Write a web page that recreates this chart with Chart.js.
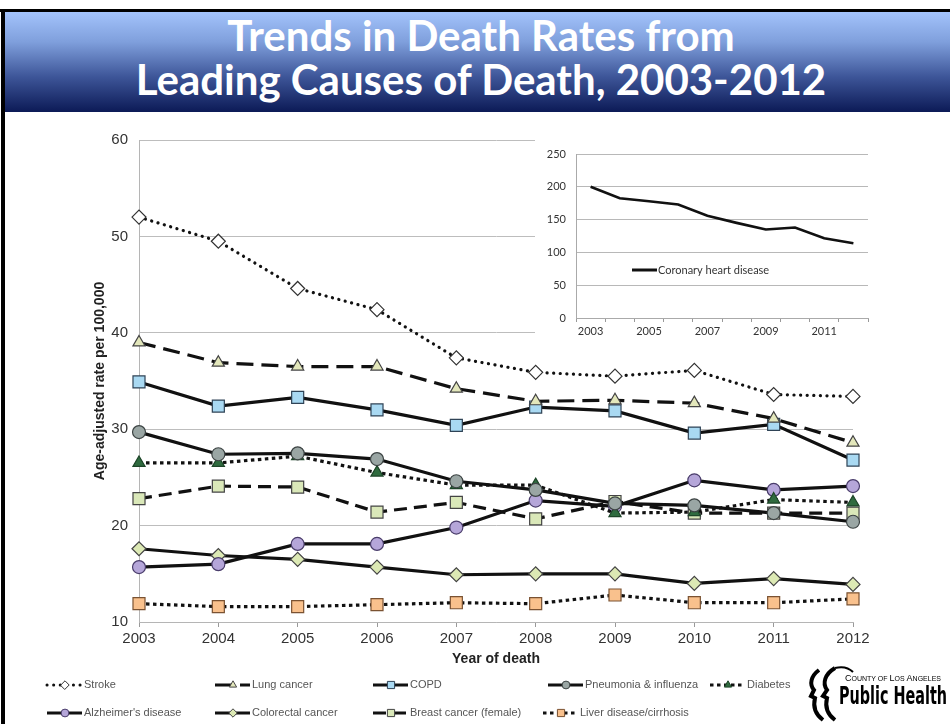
<!DOCTYPE html>
<html>
<head>
<meta charset="utf-8">
<script src="https://cdn.jsdelivr.net/npm/chart.js@4.4.0/dist/chart.umd.min.js"></script>
<style>
  html, body { margin: 0; padding: 0; background: #fff; }
  #page { position: relative; width: 950px; height: 724px; overflow: hidden; background: #fff; }
  #frameTop { position: absolute; left: 0; top: 9px; width: 950px; height: 3px; background: #000; }
  #frameLeft { position: absolute; left: 1px; top: 9px; width: 4px; height: 715px; background: #000; }
  #banner {
    position: absolute; left: 5px; top: 12px; width: 945px; height: 100px;
    background: linear-gradient(to bottom, #a3c3fb 0%, #7f9fdc 30%, #3d5598 65%, #0c1a56 100%);
  }
  .tline {
    position: absolute; left: 0; width: 962px; text-align: center; color: #fff;
    font-family: Lato, "Open Sans", sans-serif; font-weight: bold; font-size: 42px;
    white-space: nowrap;
  }
  #mainChart { position: absolute; left: 0; top: 0; }
  #insetBox { position: absolute; left: 535px; top: 132px; width: 345px; height: 215px; background: #fff; }
  #logo { position: absolute; left: 805px; top: 666px; width: 145px; height: 56px; }
</style>
</head>
<body>
<div id="page">
  <div id="frameTop"></div>
  <div id="banner"></div>
  <div id="frameLeft"></div>
  <div class="tline" style="top:10px;">Trends in Death Rates from</div>
  <div class="tline" style="top:54px;">Leading Causes of Death, 2003-2012</div>
  <canvas id="mainChart" width="950" height="724"></canvas>
  <div id="insetBox"><canvas id="insetChart" width="345" height="215"></canvas></div>
  <div id="logo">
    <svg width="145" height="56" viewBox="0 0 145 56">
      <path d="M14 4 C6 10 4 18 9 24 L6 30 L10 32 C8 40 10 48 18 54" fill="none" stroke="#000" stroke-width="4"/>
      <path d="M30 2 C20 8 17 17 22 24 L18 30 L22 32 C20 40 22 48 30 54" fill="none" stroke="#000" stroke-width="4"/>
      <path d="M30 2 C38 0 44 2 48 6" fill="none" stroke="#000" stroke-width="2"/>
      <text x="40" y="15" font-family="Liberation Sans, Arial" font-size="9" fill="#000">C<tspan font-size="7">OUNTY OF </tspan>L<tspan font-size="7">OS </tspan>A<tspan font-size="7">NGELES</tspan></text>
      <text x="34" y="38" font-family="Liberation Sans Narrow, DejaVu Sans Condensed, Arial" font-weight="bold" font-size="25" fill="#000" textLength="108" lengthAdjust="spacingAndGlyphs">Public Health</text>
    </svg>
  </div>
</div>

<script>
// years on the x axis
const years = ["2003", "2004", "2005", "2006", "2007", "2008", "2009", "2010", "2011", "2012"];

// age-adjusted rate per 100,000
const stroke      = [52.0, 49.5, 44.6, 42.4, 37.4, 35.9, 35.5, 36.1, 33.6, 33.4];
const lungCancer  = [39.0, 36.9, 36.5, 36.5, 34.2, 32.9, 33.0, 32.7, 31.1, 28.6];
const copd        = [34.9, 32.4, 33.3, 32.0, 30.4, 32.3, 31.9, 29.6, 30.5, 26.8];
const pneumonia   = [29.7, 27.4, 27.5, 26.9, 24.6, 23.7, 22.3, 22.1, 21.3, 20.4];
const diabetes    = [26.5, 26.5, 27.2, 25.5, 24.2, 24.2, 21.3, 21.4, 22.7, 22.4];
const alzheimers  = [15.7, 16.0, 18.1, 18.1, 19.8, 22.6, 22.0, 24.7, 23.7, 24.1];
const colorectal  = [17.6, 16.9, 16.5, 15.7, 14.9, 15.0, 15.0, 14.0, 14.5, 13.9];
const breast      = [22.8, 24.1, 24.0, 21.4, 22.4, 20.7, 22.5, 21.3, 21.3, 21.3];
const liver       = [11.9, 11.6, 11.6, 11.8, 12.0, 11.9, 12.8, 12.0, 12.0, 12.4];

// inset: coronary heart disease
const chd = [200, 182.5, 178, 173, 156, 145, 135, 138, 121.5, 114];

const yTicks = [10, 20, 30, 40, 50, 60];
const insetTicks = [0, 50, 100, 150, 200, 250];

function series(label, data, dash, cap, style, fill, edge, radius) {
    return {
        label: label,
        data: data,
        borderColor: "#111",
        borderWidth: 3.2,
        borderDash: dash,
        borderCapStyle: cap,
        tension: 0,
        fill: false,
        pointStyle: style,
        pointRadius: radius,
        pointHoverRadius: radius,
        pointBackgroundColor: fill,
        pointBorderColor: edge,
        pointBorderWidth: 1.2
    };
}

const datasets = [
    series("Stroke", stroke, [0.1, 6.5], "round", "rectRot", "#ffffff", "#333", 7),
    series("Lung cancer", lungCancer, [17, 8], "butt", "triangle", "#e3e7bb", "#444", 7),
    series("COPD", copd, [], "butt", "rect", "#a9d9f2", "#2f4356", 8.5),
    series("Pneumonia & influenza", pneumonia, [], "butt", "circle", "#9aa6a4", "#3d4444", 6.5),
    series("Diabetes", diabetes, [3.5, 3.5], "butt", "triangle", "#2f6b3f", "#1d4528", 7),
    series("Alzheimer's disease", alzheimers, [], "butt", "circle", "#b5a6d9", "#4a3d6b", 6.5),
    series("Colorectal cancer", colorectal, [], "butt", "rectRot", "#dce9b4", "#444", 7),
    series("Breast cancer (female)", breast, [13, 7], "butt", "rect", "#dae8b9", "#444", 8.5),
    series("Liver disease/cirrhosis", liver, [3.5, 3.5], "butt", "rect", "#f9c18d", "#7a5232", 8.5)
];

// bottom legend, drawn in Excel-like fixed columns
const legendSlots = [
    [47, 685], [215, 685], [373, 685], [548, 685], [710, 685],
    [47, 713], [215, 713], [373, 713], [543, 713]
];

const legendPlugin = {
    id: "gridLegend",
    afterDraw(chart) {
        const ctx = chart.ctx;
        chart.data.datasets.forEach((ds, i) => {
            const [x0, y] = legendSlots[i];
            ctx.save();
            ctx.strokeStyle = ds.borderColor;
            ctx.lineWidth = 3;
            ctx.lineCap = ds.borderCapStyle;
            ctx.setLineDash(ds.borderDash);
            ctx.beginPath();
            ctx.moveTo(x0, y);
            ctx.lineTo(x0 + 35, y);
            ctx.stroke();
            ctx.setLineDash([]);
            ctx.fillStyle = ds.pointBackgroundColor;
            ctx.strokeStyle = ds.pointBorderColor;
            ctx.lineWidth = 1;
            Chart.helpers.drawPoint(ctx, {
                pointStyle: ds.pointStyle,
                radius: ds.pointRadius * 0.6,
                rotation: 0,
                borderWidth: 1
            }, x0 + 18, y);
            ctx.fillStyle = "#555";
            ctx.font = "11px 'Liberation Sans', Arial";
            ctx.textBaseline = "middle";
            ctx.textAlign = "left";
            ctx.fillText(ds.label, x0 + 37, y);
            ctx.restore();
        });
    }
};

new Chart(document.getElementById("mainChart"), {
    type: "line",
    data: { labels: years, datasets: datasets },
    options: {
        responsive: false,
        animation: false,
        layout: { padding: { top: 140, left: 84, right: 97, bottom: 52 } },
        plugins: { legend: { display: false }, tooltip: { enabled: false } },
        scales: {
            x: {
                offset: false,
                afterFit: s => { s.height = 50; },
                grid: { drawOnChartArea: false, drawTicks: true, tickLength: 5, color: "#999" },
                border: { color: "#b5b5b5" },
                ticks: { color: "#333", font: { family: "'Liberation Sans', Arial", size: 15 }, padding: 3, maxRotation: 0 },
                title: {
                    display: true, text: "Year of death", color: "#222",
                    font: { family: "'Liberation Sans', Arial", size: 14, weight: "bold" },
                    padding: { top: 0, bottom: 4 }
                }
            },
            y: {
                min: 10, max: 60,
                afterFit: s => { s.width = 55; },
                afterBuildTicks: s => { s.ticks = yTicks.map(v => ({ value: v })); },
                grid: { color: "#bdbdbd", lineWidth: 1, drawTicks: false },
                border: { color: "#b5b5b5" },
                ticks: { color: "#333", font: { family: "'Liberation Sans', Arial", size: 15 }, padding: 11 },
                title: {
                    display: true, text: "Age-adjusted rate per 100,000", color: "#222",
                    font: { family: "'Liberation Sans', Arial", size: 14, weight: "bold" },
                    padding: { top: 8, bottom: 0 }
                }
            }
        }
    },
    plugins: [legendPlugin]
});

const insetLegend = {
    id: "insetLegend",
    afterDraw(chart) {
        const ctx = chart.ctx;
        const ds = chart.data.datasets[0];
        ctx.save();
        ctx.strokeStyle = ds.borderColor;
        ctx.lineWidth = 3;
        ctx.beginPath();
        ctx.moveTo(97, 138);
        ctx.lineTo(122, 138);
        ctx.stroke();
        ctx.fillStyle = "#333";
        ctx.font = "11px Lato, 'Open Sans', sans-serif";
        ctx.textBaseline = "middle";
        ctx.fillText(ds.label, 123, 138);
        ctx.restore();
    }
};

new Chart(document.getElementById("insetChart"), {
    type: "line",
    data: {
        labels: years,
        datasets: [{
            label: "Coronary heart disease",
            data: chd,
            borderColor: "#111",
            borderWidth: 2.6,
            pointRadius: 0,
            tension: 0,
            fill: false
        }]
    },
    options: {
        responsive: false,
        animation: false,
        layout: { padding: { top: 22, left: 5, right: 12, bottom: 3 } },
        plugins: { legend: { display: false }, tooltip: { enabled: false } },
        scales: {
            x: {
                offset: true,
                afterFit: s => { s.height = 26; },
                grid: { offset: true, drawOnChartArea: false, tickLength: 4, color: "#999" },
                border: { color: "#aaa" },
                ticks: {
                    autoSkip: false, maxRotation: 0, padding: 3,
                    color: "#333", font: { family: "Lato, 'Open Sans', sans-serif", size: 11 },
                    callback: function (v, i) { return i % 2 === 0 ? this.getLabelForValue(v) : ""; }
                }
            },
            y: {
                min: 0, max: 250,
                afterFit: s => { s.width = 36; },
                afterBuildTicks: s => { s.ticks = insetTicks.map(v => ({ value: v })); },
                grid: { color: "#b8b8b8", drawTicks: false },
                border: { color: "#aaa" },
                ticks: { color: "#333", font: { family: "Lato, 'Open Sans', sans-serif", size: 11 }, padding: 10 }
            }
        }
    },
    plugins: [insetLegend]
});
</script>
</body>
</html>
